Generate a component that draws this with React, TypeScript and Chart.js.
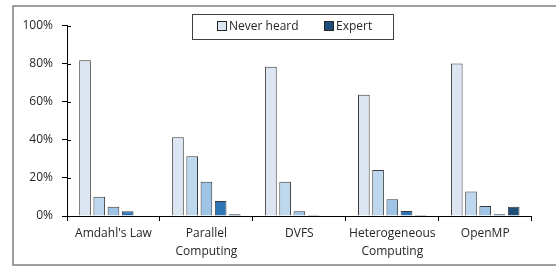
import React, { useEffect, useRef } from "react";
import { Chart, registerables } from "chart.js";

Chart.register(...registerables);

// ---- data ----
const categories: string[][] = [
  ["Amdahl's Law"],
  ["Parallel", "Computing"],
  ["DVFS"],
  ["Heterogeneous", "Computing"],
  ["OpenMP"],
];
const seriesNames = ["Never heard", "Level 2", "Level 3", "Level 4", "Expert"];
const neverHeard = [81.7, 41.3, 78.4, 63.7, 80.1];
const level2 = [10.1, 31.3, 18.0, 24.1, 12.8];
const level3 = [4.9, 18.0, 2.5, 8.8, 5.2];
const level4 = [2.5, 7.9, 0.5, 2.6, 0.9];
const expert = [0, 0.9, 0, 0.5, 4.9];
const yMin = 0;
const yMax = 100;
const yStep = 20;
const legendNames = ["Never heard", "Expert"];

// ---- styles ----
const seriesColors = ["#DCE6F2", "#BDD7EE", "#9DC3E6", "#2E75B6", "#1F4E79"];
const FONT = "'Open Sans', 'DejaVu Sans', sans-serif";
const TEXT = "#262626";

const framePlugin = {
  id: "frame",
  beforeDraw(chart: any) {
    const ctx = chart.ctx;
    ctx.save();
    ctx.fillStyle = "#ffffff";
    ctx.fillRect(0, 0, chart.width, chart.height);
    ctx.strokeStyle = "#7f7f7f";
    ctx.lineWidth = 1.5;
    ctx.strokeRect(13, 6, 600, 259);
    ctx.restore();
  },
  afterDraw(chart: any) {
    const ctx = chart.ctx;
    const y = chart.scales.y;
    ctx.save();
    // y tick marks crossing into plot
    ctx.strokeStyle = "#000";
    ctx.lineWidth = 1;
    y.ticks.forEach((t: any) => {
      const py = Math.round(y.getPixelForValue(t.value)) + 0.5;
      ctx.beginPath();
      ctx.moveTo(y.right, py);
      ctx.lineTo(y.right + 4, py);
      ctx.stroke();
    });
    // legend box
    const bx = 192.5, by = 14.5, bw = 201, bh = 25;
    ctx.fillStyle = "#fff";
    ctx.fillRect(bx, by, bw, bh);
    ctx.strokeStyle = "#404040";
    ctx.strokeRect(bx, by, bw, bh);
    ctx.font = `12px ${FONT}`;
    ctx.textBaseline = "middle";
    ctx.textAlign = "left";
    const items = [
      { name: legendNames[0], color: seriesColors[0], sx: 217 },
      { name: legendNames[1], color: seriesColors[4], sx: 324 },
    ];
    items.forEach((it) => {
      ctx.fillStyle = it.color;
      ctx.fillRect(it.sx + 0.5, 21.5, 9, 9);
      ctx.strokeStyle = "#262626";
      ctx.strokeRect(it.sx + 0.5, 21.5, 9, 9);
      ctx.fillStyle = TEXT;
      ctx.fillText(it.name, it.sx + 12, 26.5);
    });
    ctx.restore();
  },
};

export default function App() {
  const ref = useRef<HTMLCanvasElement | null>(null);
  useEffect(() => {
    if (!ref.current) return;
    const values = [neverHeard, level2, level3, level4, expert];
    const chart = new Chart(ref.current, {
      type: "bar",
      data: {
        labels: categories,
        datasets: values.map((v, i) => ({
          label: seriesNames[i],
          data: v,
          backgroundColor: seriesColors[i],
          borderColor: "#3a3a3a",
          borderWidth: 1,
          categoryPercentage: 0.765,
          barPercentage: 0.82,
        })),
      },
      options: {
        animation: false,
        responsive: false,
        devicePixelRatio: 1,
        layout: { padding: { left: 0, top: 25.5, right: 24.3, bottom: 0 } },
        plugins: {
          legend: { display: false },
          tooltip: { enabled: false },
          title: { display: false },
        },
        scales: {
          x: {
            type: "category",
            offset: true,
            grid: {
              offset: true,
              drawOnChartArea: false,
              drawTicks: true,
              tickLength: 5,
              color: "#000",
            },
            border: { display: true, color: "#000", width: 1 },
            ticks: {
              color: TEXT,
              font: { family: FONT, size: 12, lineHeight: 1.5 },
              padding: 4,
              maxRotation: 0,
              autoSkip: false,
            },
            afterFit(scale: any) {
              scale.height = 51;
            },
          },
          y: {
            min: yMin,
            max: yMax,
            grid: {
              drawOnChartArea: false,
              drawTicks: true,
              tickLength: 5,
              color: "#000",
            },
            border: { display: true, color: "#000", width: 1 },
            ticks: {
              stepSize: yStep,
              color: TEXT,
              font: { family: FONT, size: 12 },
              padding: 9,
              callback: (v: any) => `${v}%`,
            },
            afterFit(scale: any) {
              scale.width = 67;
            },
          },
        },
      },
      plugins: [framePlugin],
    });
    return () => chart.destroy();
  }, []);
  return (
    <div style={{ position: "absolute", left: 0, top: 0, width: 556, height: 267 }}>
      <canvas ref={ref} width={556} height={267} style={{ display: "block" }} />
    </div>
  );
}
